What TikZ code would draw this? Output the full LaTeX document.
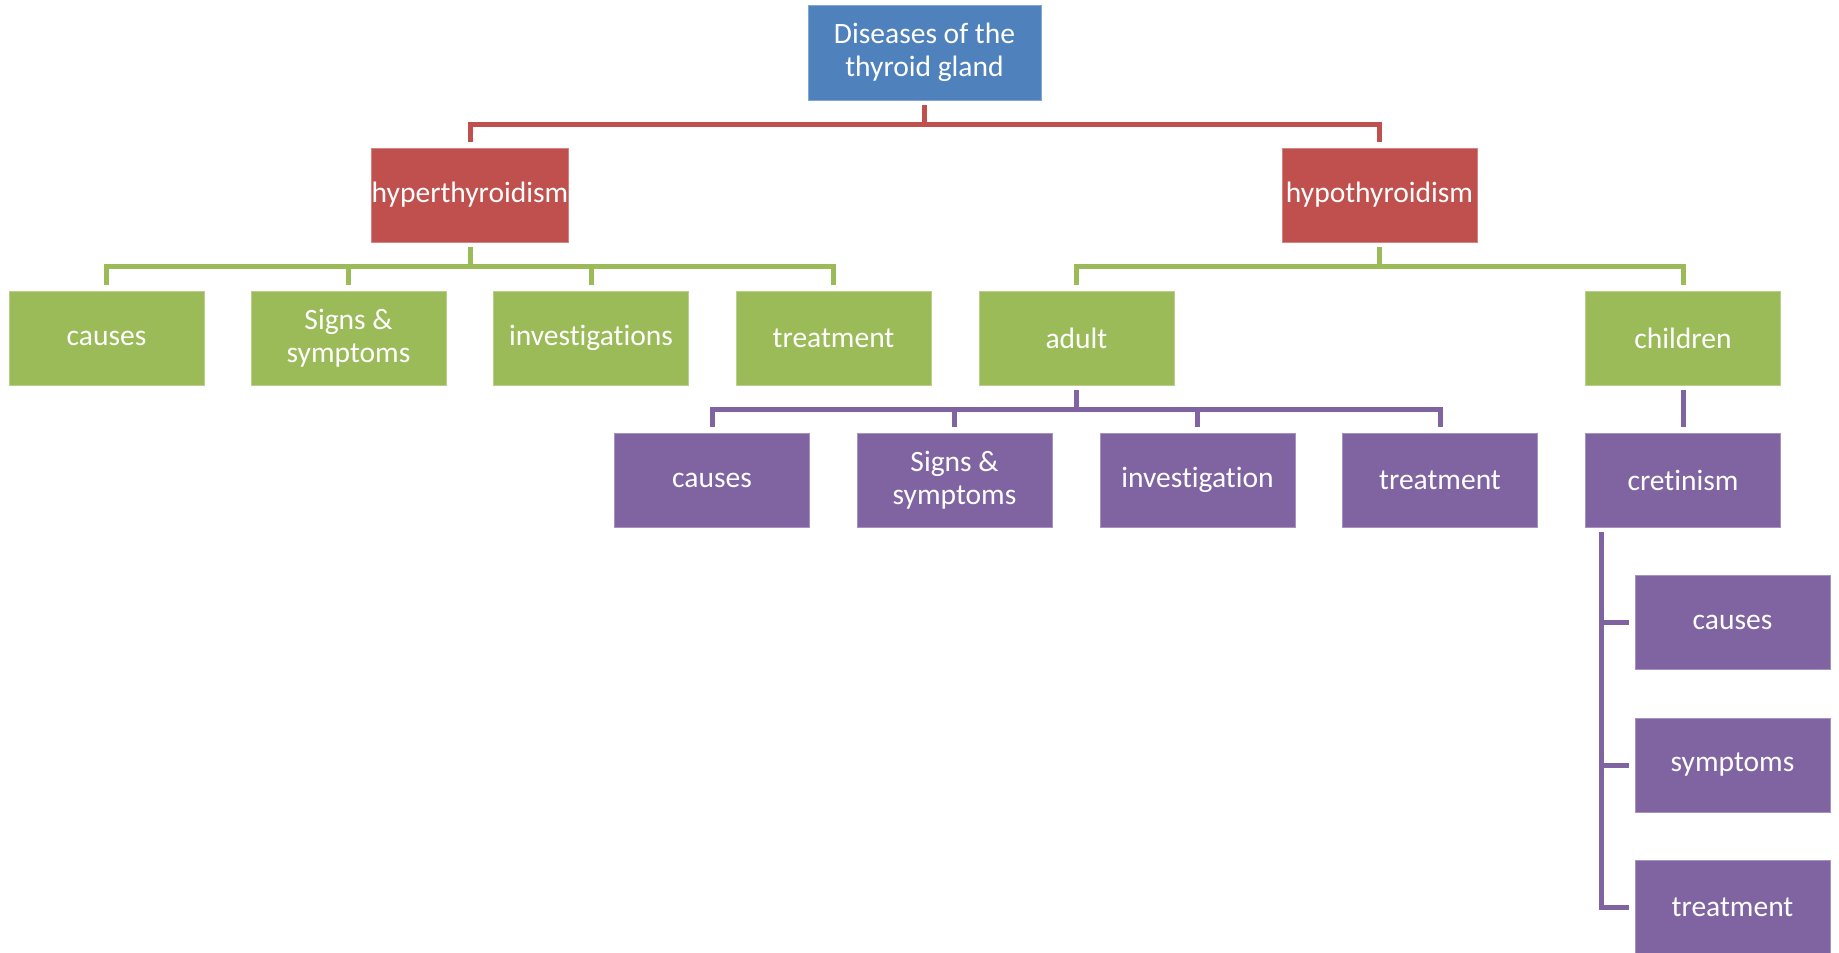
\documentclass[tikz,border=0pt]{standalone}
\usepackage{fontspec}
\setmainfont{Carlito}[RawFeature={-liga;-clig;-dlig}]
\usepackage{tikz}
\usetikzlibrary{positioning}
\definecolor{thyblue}{HTML}{4F81BD}
\definecolor{thyred}{HTML}{C0504D}
\definecolor{thygreen}{HTML}{9BBB59}
\definecolor{thypurple}{HTML}{8064A2}
\tikzset{
    box/.style = {rectangle, align=center, text=white, inner sep=0pt, line width=0.4pt,
                  minimum width=3.9cm, minimum height=1.88cm, font=\fontsize{16.8}{18.6}\selectfont},
    rootbox/.style = {box, fill=thyblue, draw=thyblue!70!white, minimum width=4.66cm, minimum height=1.9cm},
    redbox/.style = {box, fill=thyred, draw=thyred!70!white},
    greenbox/.style = {box, fill=thygreen, draw=thygreen!70!white},
    purplebox/.style = {box, fill=thypurple, draw=thypurple!70!white},
}

\begin{document}
\begin{tikzpicture}[
	x=0.02cm,
	y=-0.02cm
]
\tikzset{
    linkr/.style = {-, line width=0.1cm, thyred, shorten <=0.1cm, shorten >=0.12cm},
    linkg/.style = {-, line width=0.1cm, thygreen, shorten <=0.1cm, shorten >=0.12cm},
    linkp/.style = {-, line width=0.1cm, thypurple, shorten <=0.1cm, shorten >=0.12cm}
}
\useasboundingbox (0,0) rectangle (1839,953);
\node[rootbox] at (924.5,52.5) (root) {Diseases of the\\thyroid gland};
%
\node[redbox] at (470,195) (hyper) {hyperthyroidism};
\node[redbox] at (1379.5,195) (hypo) {hypothyroidism};
%
\node[greenbox] at (106.5,338) (hcause) {causes};
\node[greenbox] at (348.5,338) (hsign) {Signs \&\\symptoms};
\node[greenbox] at (591,338) (hinvest) {investigations};
\node[greenbox] at (833.5,338) (htreat) {treatment};
\node[greenbox] at (1076.5,338) (adult) {adult};
\node[greenbox] at (1683,338) (child) {children};
%
\node[purplebox] at (712,480) (acause) {causes};
\node[purplebox] at (954.5,480) (asign) {Signs \&\\symptoms};
\node[purplebox] at (1197.5,480) (ainvest) {investigation};
\node[purplebox] at (1440,480) (atreat) {treatment};
\node[purplebox] at (1683,480) (cret) {cretinism};
%
\node[purplebox] at (1732.5,622) (ccause) {causes};
\node[purplebox] at (1732.5,765) (csymp) {symptoms};
\node[purplebox] at (1732.5,907) (ctreat) {treatment};
%
\draw[linkr] (root.south) -- ++(0,24) -| (hyper.north);
\draw[linkr] (root.south) -- ++(0,24) -| (hypo.north);
%
\draw[linkg] (hyper.south) -- ++(0,24) -| (hcause.north);
\draw[linkg] (hyper.south) -- ++(0,24) -| (hsign.north);
\draw[linkg] (hyper.south) -- ++(0,24) -| (hinvest.north);
\draw[linkg] (hyper.south) -- ++(0,24) -| (htreat.north);
\draw[linkg] (hypo.south) -- ++(0,24) -| (adult.north);
\draw[linkg] (hypo.south) -- ++(0,24) -| (child.north);
%
\draw[linkp] (adult.south) -- ++(0,24) -| (acause.north);
\draw[linkp] (adult.south) -- ++(0,24) -| (asign.north);
\draw[linkp] (adult.south) -- ++(0,24) -| (ainvest.north);
\draw[linkp] (adult.south) -- ++(0,24) -| (atreat.north);
\draw[linkp] (child.south) -- (cret.north);
%
\coordinate (cretbus) at ([xshift=0.33cm]cret.south west);
\draw[linkp] (cretbus) |- (ccause.west);
\draw[linkp] (cretbus) |- (csymp.west);
\draw[linkp] (cretbus) |- (ctreat.west);
\end{tikzpicture}
\end{document}
